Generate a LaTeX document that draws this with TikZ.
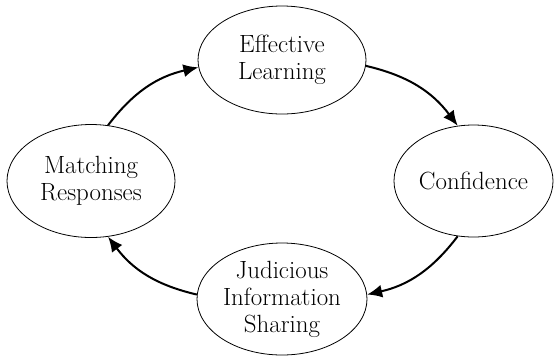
\documentclass[tikz,border=0pt]{standalone}
\usetikzlibrary{shapes.geometric,arrows.meta}
\begin{document}
\begin{tikzpicture}[x=1bp,y=-1bp,
  bubble/.style={ellipse,draw,line width=0.8bp,inner sep=0pt,align=center,
    font=\fontsize{25}{27}\selectfont},
  flow/.style={line width=2bp,-{Latex[length=15bp,width=13bp]}}]
\useasboundingbox (0,0) rectangle (554,358);
\node[bubble,minimum width=168bp,minimum height=108bp] (E) at (282,60) {Effective\\Learning};
\node[bubble,minimum width=159bp,minimum height=112bp] (C) at (473.5,181) {Confidence};
\node[bubble,minimum width=170bp,minimum height=112bp] (J) at (282,299) {Judicious\\Information\\Sharing};
\node[bubble,minimum width=168bp,minimum height=113bp] (M) at (91,181) {Matching\\Responses};
\draw[flow] (M.73) to[bend left=20] (E.185);
\draw[flow] (E.356) to[bend left=20] (C.106);
\draw[flow] (C.254) to[bend left=20] (J.3);
\draw[flow] (J.177) to[bend left=20] (M.287);
\end{tikzpicture}
\end{document}
